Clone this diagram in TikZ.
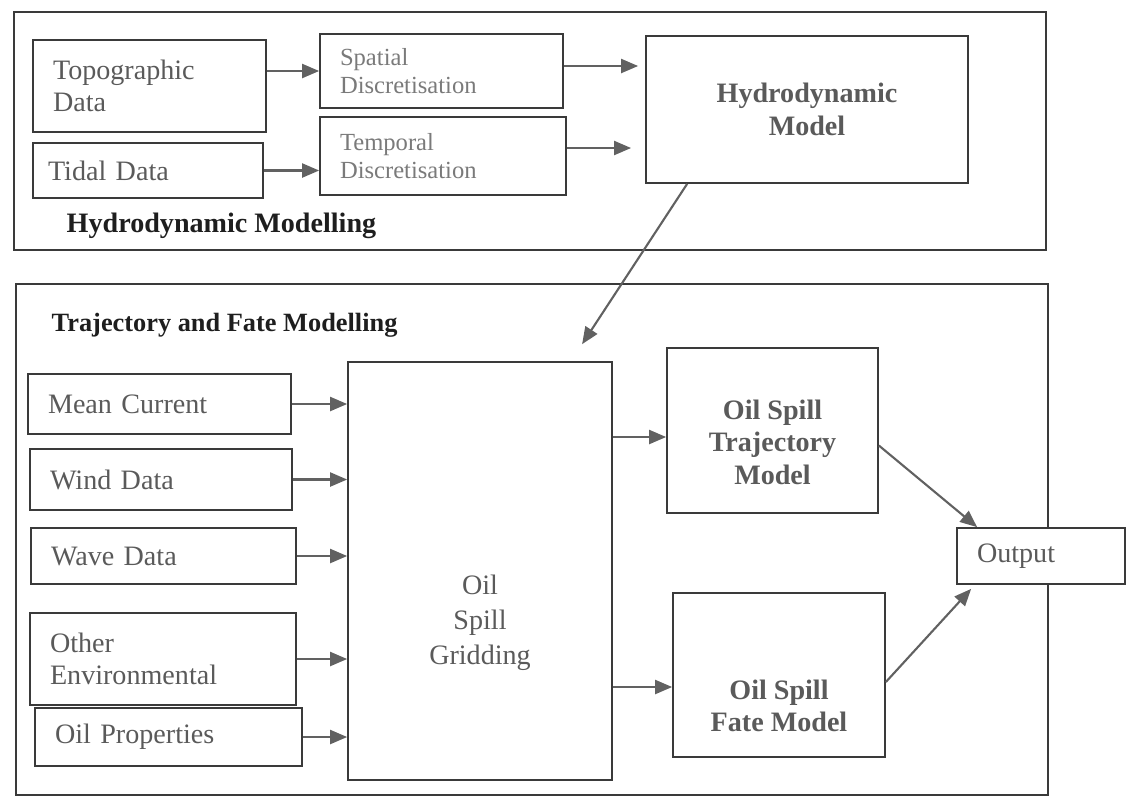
\documentclass[tikz,border=0pt]{standalone}
\usepackage{fontspec}
\setmainfont{Liberation Serif}
\usetikzlibrary{arrows.meta, positioning, calc}
\definecolor{cline}{HTML}{3A3A3A}
\definecolor{ctext}{HTML}{5A5A5A}
\definecolor{cfaint}{HTML}{7A7A7A}
\definecolor{cdark}{HTML}{1E1E1E}
\tikzset{
  every picture/.style={line width=1pt},
  group/.style={draw=cline, line width=0.9pt, minimum width=20.64cm},
  src/.style={draw=cline, text=ctext, align=left, inner xsep=0.4cm, font=\fontsize{16}{18.5}\selectfont},
  model/.style={text=ctext, align=center, font=\fontsize{16}{18.5}\selectfont\bfseries},
  arrow/.style={-{Triangle[length=3.4mm, width=2.8mm]}, draw=cline!80, line width=1.2pt},
  title/.style={text=cdark, anchor=west, font=\fontsize{16}{18}\selectfont\bfseries},
}
\begin{document}
\begin{tikzpicture}[x=0.02cm, y=-0.02cm, disc/.style={src, text=cfaint, font=\fontsize{14}{15.5}\selectfont}]
  \useasboundingbox (0,0) rectangle (1132,799);
  % hydrodynamic part
  \node[group, minimum height=4.76cm] (hmgroup) at (530,131) {};
  \node[title] (hmtitle) at (60,226) {Hydrodynamic Modelling};
  \node[src, text width=3.86cm, minimum height=1.84cm] (topo) at (149.5,86) {Topographic\\Data};
  \node[src, text width=4.0cm, minimum height=1.1cm, inner xsep=0.3cm] (tidal) at (148,170.5) {Tidal Data};
  \node[disc, text width=4.06cm, minimum height=1.48cm] (sp) at (441.5,71) {Spatial\\Discretisation};
  \node[disc, text width=4.12cm, minimum height=1.56cm] (tp) at (443,156) {Temporal\\Discretisation};
  \node[model, draw=cline, minimum width=6.44cm, minimum height=2.94cm] (hm) at (807,109.5) {Hydrodynamic\\Model};
  \draw[arrow] (topo.east |- sp.west) -- (sp.west);
  \draw[arrow] (tidal.east) -- (tidal.east -| tp.west);
  \draw[arrow, shorten >=4pt] ([yshift=0.1cm]sp.east) -- ([yshift=0.1cm]sp.east -| hm.west);
  \draw[arrow, shorten >=8pt] ([yshift=0.16cm]tp.east) -- ([yshift=0.16cm]tp.east -| hm.west);
  % trajectory and fate part
  \node[group, minimum height=10.22cm] (tfgroup) at (532,539.5) {};
  \node[title, font=\fontsize{15}{18}\selectfont\bfseries] (tftitle) at (45,325) {Trajectory and Fate Modelling};
  \node[src, text width=4.46cm, minimum height=1.2cm] (mc) at (159.5,404) {Mean Current};
  \node[src, text width=4.44cm, minimum height=1.22cm] (wd) at (161,479.5) {Wind Data};
  \node[src, text width=4.5cm, minimum height=1.12cm] (wv) at (163.5,556) {Wave Data};
  \node[src, text width=4.52cm, minimum height=1.84cm] (oe) at (163,659) {Other\\Environmental};
  \node[src, text width=4.54cm, minimum height=1.16cm] (op) at (168.5,737) {Oil Properties};
  \node[draw=cline, minimum width=5.28cm, minimum height=8.36cm,
    label={[name=grtext, yshift=-1.04cm, text=ctext, align=center, font=\fontsize{16}{20}\selectfont]center:Oil\\Spill\\Gridding}] (gr) at (480,571) {};
  \node[draw=cline, minimum width=4.22cm, minimum height=3.3cm] (tj) at (772.5,430.5) {};
  \node[model] (tjtext) at (772.5,442) {Oil Spill\\Trajectory\\Model};
  \node[draw=cline, minimum width=4.24cm, minimum height=3.28cm] (fm) at (779,675) {};
  \node[model] (fmtext) at (779,706) {Oil Spill\\Fate Model};
  \node[src, fill=white, text width=2.56cm, minimum height=1.12cm] (out) at (1041,556) {Output};
  \draw[arrow] ([xshift=0.84cm]hm.south west) -- ([xshift=4.7cm, yshift=0.34cm]gr.north west);
  \foreach \s in {mc, wd, wv, oe, op} \draw[arrow] (\s.east) -- (\s.east -| gr.west);
  \draw[arrow] ([yshift=-0.13cm]gr.east |- tj.west) -- ([yshift=-0.13cm]tj.west);
  \draw[arrow] ([yshift=-0.24cm]gr.east |- fm.west) -- ([yshift=-0.24cm]fm.west);
  \draw[arrow] ([yshift=-0.3cm]tj.east) -- ([xshift=0.42cm]out.north west);
  \draw[arrow] ([yshift=-0.14cm]fm.east) -- ([xshift=0.3cm, yshift=-0.08cm]out.south west);
\end{tikzpicture}
\end{document}
